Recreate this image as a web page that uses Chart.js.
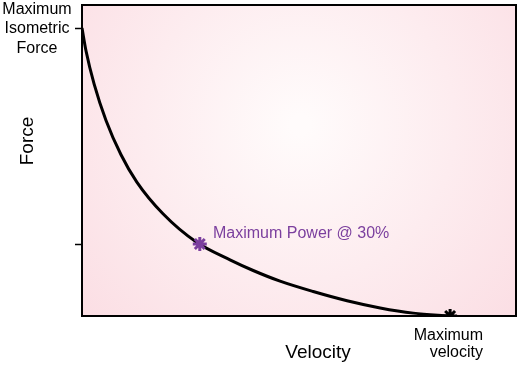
<!DOCTYPE html>
<html>
<head>
<meta charset="utf-8">
<script src="https://cdn.jsdelivr.net/npm/chart.js@4/dist/chart.umd.min.js"></script>
<style>
  html, body { margin: 0; padding: 0; background: #fff; }
  #wrap { width: 520px; height: 365px; }
</style>
</head>
<body>
<div id="wrap"><canvas id="chartFV"></canvas></div>
<script>
  // force-velocity curve, values (normalised)
  var velocity = [0, 0.011, 0.033, 0.065, 0.106, 0.149, 0.22, 0.3125, 0.402, 0.465, 0.538, 0.628, 0.72, 0.81, 0.9, 1.0];
  var force = [1.0, 0.92, 0.805, 0.68, 0.56, 0.465, 0.355, 0.255, 0.195, 0.158, 0.121, 0.085, 0.053, 0.028, 0.01, 0];
  var powerPoint = [0.32, 0.25];
  var maxVelPoint = [1.0, 0];
  var yTicks = [0.25, 1];
  var yTickLabel = ["Maximum", "Isometric", "Force"];
  var xTitle = "Velocity";
  var yTitle = "Force";
  var powerLabel = "Maximum Power @ 30%";
  var maxVelLabel = ["Maximum", "velocity"];

  var FONT = "'Liberation Sans', Arial, Helvetica, sans-serif";
  var PURPLE = "#7b3f9e";

  var curve = velocity.map(function (v, i) {
    return { x: v, y: force[i] };
  });

  var bgPlugin = {
    id: "bg",
    beforeDraw: function (chart) {
      var a = chart.chartArea;
      var c = chart.ctx;
      var g = c.createRadialGradient(300, 125, 10, 300, 125, 300);
      g.addColorStop(0, "#fffbfb");
      g.addColorStop(1, "#fbdde3");
      c.save();
      c.fillStyle = g;
      c.fillRect(a.left, a.top, a.right - a.left, a.bottom - a.top);
      c.restore();
    },
    afterDraw: function (chart) {
      var a = chart.chartArea;
      var c = chart.ctx;
      c.save();
      c.strokeStyle = "#000";
      c.lineWidth = 2;
      c.strokeRect(a.left, a.top, a.right - a.left, a.bottom - a.top);

      // y tick marks
      var ys = chart.scales.y;
      c.lineWidth = 1.5;
      yTicks.forEach(function (t) {
        var py = Math.round(ys.getPixelForValue(t)) + 0.5;
        c.beginPath();
        c.moveTo(a.left - 7, py);
        c.lineTo(a.left, py);
        c.stroke();
      });

      c.fillStyle = "#000";
      c.font = "16px " + FONT;
      c.textAlign = "center";
      c.fillText(yTickLabel[0], 37, 14);
      c.fillText(yTickLabel[1], 37, 33);
      c.fillText(yTickLabel[2], 37, 53);

      c.textAlign = "right";
      c.fillText(maxVelLabel[0], 483, 340);
      c.fillText(maxVelLabel[1], 483, 357);

      c.font = "19px " + FONT;
      c.textAlign = "center";
      c.fillText(xTitle, 318, 358);
      c.save();
      c.translate(33, 141);
      c.rotate(-Math.PI / 2);
      c.fillText(yTitle, 0, 0);
      c.restore();

      c.fillStyle = PURPLE;
      c.font = "16px " + FONT;
      c.textAlign = "left";
      c.fillText(powerLabel, 213, 238);
      c.restore();
    },
  };

  var ctx = document.getElementById("chartFV").getContext("2d");
  var chart = new Chart(ctx, {
    type: "scatter",
    data: {
      datasets: [
        {
          label: "curve",
          data: curve,
          showLine: true,
          borderColor: "#000",
          borderWidth: 3,
          pointRadius: 0,
          cubicInterpolationMode: "monotone",
          order: 2,
        },
        {
          label: "power",
          data: [{ x: powerPoint[0], y: powerPoint[1] }],
          pointStyle: "star",
          pointRadius: 7,
          borderColor: PURPLE,
          borderWidth: 3,
          order: 1,
        },
        {
          label: "maxvel",
          data: [{ x: maxVelPoint[0], y: maxVelPoint[1] }],
          pointStyle: "star",
          pointRadius: 7,
          borderColor: "#000",
          borderWidth: 3,
          order: 1,
        },
      ],
    },
    options: {
      responsive: true,
      maintainAspectRatio: false,
      animation: false,
      layout: { autoPadding: false, padding: { top: 5, right: 4, left: 0, bottom: 0 } },
      plugins: {
        legend: { display: false },
        tooltip: { enabled: false },
      },
      scales: {
        x: {
          type: "linear",
          min: 0,
          max: 1.179,
          grid: { display: false },
          border: { display: false },
          ticks: { display: false },
          afterFit: function (s) {
            s.height = 49;
          },
        },
        y: {
          type: "linear",
          min: 0,
          max: 1.08,
          grid: { display: false },
          border: { display: false },
          ticks: { display: false },
          afterFit: function (s) {
            s.width = 82;
          },
        },
      },
    },
    plugins: [bgPlugin],
  });
</script>
</body>
</html>
